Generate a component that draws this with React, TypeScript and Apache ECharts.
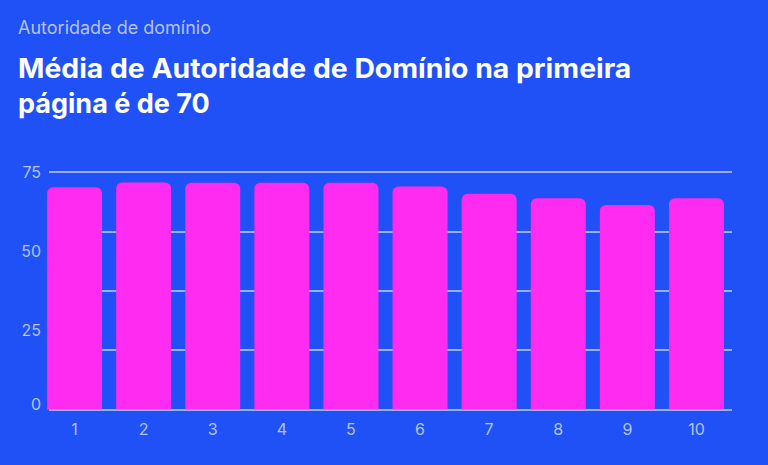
import React, { useEffect, useRef } from "react";
import * as echarts from "echarts";

const categories = ["1", "2", "3", "4", "5", "6", "7", "8", "9", "10"];
const values = [70.2, 71.7, 71.6, 71.6, 71.6, 70.4, 68.1, 66.7, 64.6, 66.7];
const yLabelTicks = [0, 25, 50, 75];
const subtitle = "Autoridade de domínio";
const titleLines = ["Média de Autoridade de Domínio na primeira", "página é de 70"];

const BG = "#2051F6";
const BAR = "#FF2BF1";
const LABEL = "#B3C3FB";
const GRIDLINE = "#C3CFFB";

export default function App() {
  const ref = useRef<HTMLDivElement>(null);
  useEffect(() => {
    if (!ref.current) return;
    const chart = echarts.init(ref.current, undefined, { renderer: "svg" });
    const font = "Inter, 'Noto Sans', sans-serif";
    chart.setOption({
      animation: false,
      backgroundColor: BG,
      textStyle: { fontFamily: font },
      graphic: [
        {
          type: "text",
          left: 18,
          top: 18,
          style: { text: subtitle, fill: LABEL, fontSize: 18, fontFamily: font },
        },
        {
          type: "text",
          left: 18,
          top: 50.5,
          scaleX: 1.05,
          style: {
            text: titleLines[0],
            fill: "#FFFFFF",
            fontSize: 27,
            fontWeight: 700,
            lineHeight: 35.5,
            fontFamily: font,
          },
        },
        {
          type: "text",
          left: 18,
          top: 86,
          style: {
            text: titleLines[1],
            fill: "#FFFFFF",
            fontSize: 27,
            fontWeight: 700,
            lineHeight: 35.5,
            fontFamily: font,
          },
        },
      ],
      grid: [
        { left: 40, right: 37, top: 172, bottom: 55.5 },
        { left: 49, right: 36, top: 172, bottom: 55.5 },
      ],
      xAxis: [
        {
          type: "category",
          gridIndex: 0,
          data: categories,
          axisLine: { show: false },
          axisTick: { show: false },
          axisLabel: { color: LABEL, fontSize: 16, margin: 11, fontFamily: font },
        },
        { type: "value", gridIndex: 1, show: false, min: 0, max: 1 },
      ],
      yAxis: [
        {
          type: "value",
          gridIndex: 0,
          min: 0,
          max: 75,
          show: false,
        },
        {
          type: "value",
          gridIndex: 1,
          min: yLabelTicks[0],
          max: yLabelTicks[yLabelTicks.length - 1],
          interval: 25,
          axisLine: { show: false },
          axisTick: { show: false },
          splitLine: { show: false },
          axisLabel: {
            color: LABEL,
            fontSize: 16,
            margin: 8,
            fontFamily: font,
            formatter: (v: number) => (v === 0 ? "{z|0}" : String(v)),
            rich: {
              z: { color: LABEL, fontSize: 16, fontFamily: font, padding: [0, 0, 12, 0] },
            },
          },
        },
        {
          type: "value",
          gridIndex: 1,
          min: 0,
          max: 75,
          interval: 18.75,
          axisLine: { show: false },
          axisTick: { show: false },
          axisLabel: { show: false },
          splitLine: { show: true, lineStyle: { color: GRIDLINE, width: 1.5 } },
        },
      ],
      series: [
        {
          type: "bar",
          xAxisIndex: 0,
          yAxisIndex: 0,
          data: values,
          barWidth: 55,
          itemStyle: { color: BAR, borderRadius: [6, 6, 0, 0] },
          z: 3,
        },
      ],
    });
    return () => chart.dispose();
  }, []);
  return (
    <div
      ref={ref}
      style={{ position: "fixed", left: 0, top: 0, width: 768, height: 465, background: BG }}
    />
  );
}
